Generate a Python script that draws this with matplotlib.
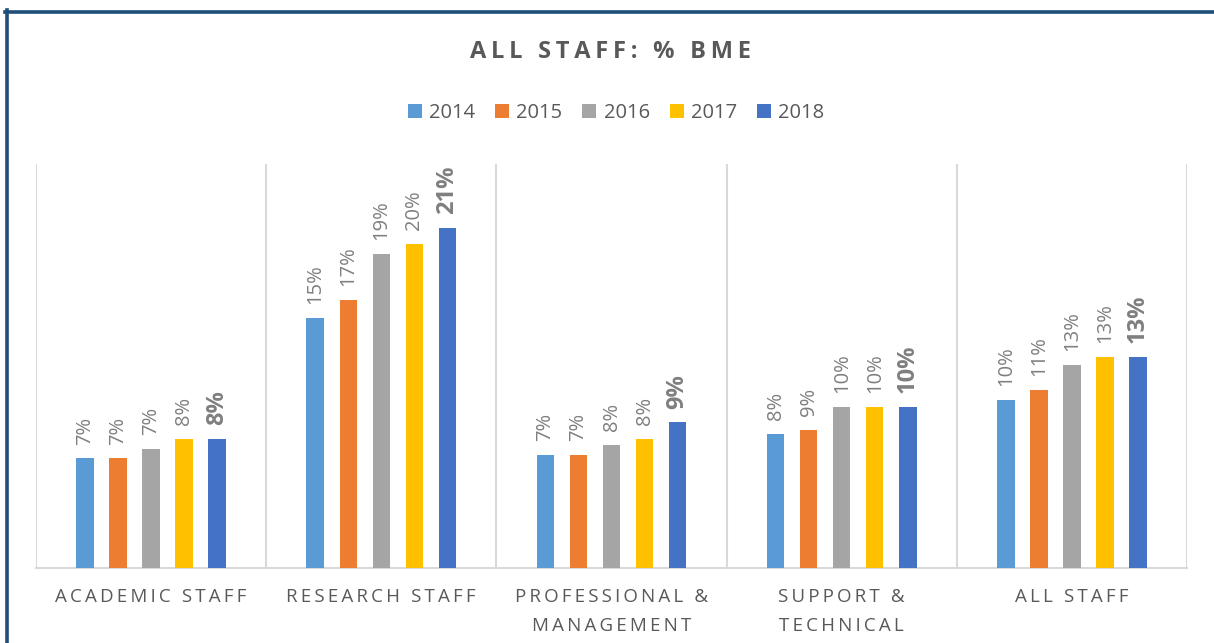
"""Gráfico de barras agrupadas: ALL STAFF: % BME (2014-2018)."""

import matplotlib
matplotlib.use('Agg')
import matplotlib.pyplot as plt
from matplotlib.lines import Line2D
from matplotlib.patches import Patch

plt.rcParams['font.family'] = ['Open Sans', 'DejaVu Sans']

# Dados (percentagem BME por categoria e ano)
categorias = ['ACADEMIC STAFF', 'RESEARCH STAFF', 'PROFESSIONAL &\nMANAGEMENT',
              'SUPPORT &\nTECHNICAL', 'ALL STAFF']
anos = ['2014', '2015', '2016', '2017', '2018']
v2014 = [6.76, 15.45, 6.99, 8.27, 10.39]
v2015 = [6.76, 16.55, 6.99, 8.55, 10.98]
v2016 = [7.36, 19.45, 7.59, 9.97, 12.55]
v2017 = [7.98, 20.03, 7.98, 9.97, 13.03]
v2018 = [7.98, 21.02, 8.99, 9.97, 13.03]
rotulos = [
    ['7%', '15%', '7%', '8%', '10%'],
    ['7%', '17%', '7%', '9%', '11%'],
    ['7%', '19%', '8%', '10%', '13%'],
    ['8%', '20%', '8%', '10%', '13%'],
    ['8%', '21%', '9%', '10%', '13%'],
]
series = [v2014, v2015, v2016, v2017, v2018]
cores = ['#5B9BD5', '#ED7D31', '#A5A5A5', '#FFC000', '#4472C4']


def espacado(texto, sep='\u2009'):
    # simula o espaçamento entre letras do Excel
    linhas = []
    for linha in texto.split('\n'):
        linhas.append(sep.join(linha))
    return '\n'.join(linhas)


fig = plt.figure(figsize=(12.14, 6.43), dpi=100)
ax = fig.add_axes([36 / 1214, 1 - 567.5 / 643, (1187 - 36) / 1214, (567.5 - 164) / 643])

largura = 0.076
passo = 0.1435
x = list(range(len(categorias)))
for i, (vals, cor) in enumerate(zip(series, cores)):
    desloc = (i - 2) * passo
    pos = [xi + desloc for xi in x]
    ax.bar(pos, vals, width=largura, color=cor, zorder=3)
    negrito = (i == len(series) - 1)
    for px, v, r in zip(pos, vals, rotulos[i]):
        ax.annotate(r, (px, v), xytext=(0, 10), textcoords='offset points',
                    rotation=90, ha='center', va='bottom',
                    fontsize=17 if negrito else 14.5,
                    fontweight='bold' if negrito else 'normal',
                    color='#7F7F7F')

ax.set_xlim(-0.5, 4.5)
ax.set_ylim(0, 25)
for b in [-0.5, 0.5, 1.5, 2.5, 3.5, 4.5]:
    ax.axvline(b, color='#D9D9D9', lw=1.5, zorder=1)
for lado in ['top', 'left', 'right']:
    ax.spines[lado].set_visible(False)
ax.spines['bottom'].set_color('#D9D9D9')
ax.spines['bottom'].set_linewidth(1.5)
ax.set_yticks([])
ax.set_xticks(x)
ax.set_xticklabels([espacado(c) for c in categorias], fontsize=13.5,
                   color='#595959', linespacing=1.75)
ax.tick_params(axis='x', length=0, pad=15)

# Título
fig.text(610 / 1214, 1 - 52 / 643, espacado('ALL STAFF: % BME'), ha='center', va='center',
         fontsize=17, fontweight='bold', color='#595959')

# Legenda
handles = [Patch(facecolor=c, edgecolor='none') for c in cores]
fig.legend(handles, anos, loc='center', bbox_to_anchor=(616 / 1214, 1 - 113 / 643),
           ncol=5, frameon=False, fontsize=14.5, handlelength=0.7, handleheight=0.7,
           handletextpad=0.35, columnspacing=1.0, labelcolor='#595959')

# Moldura azul (esquerda e topo)
fig.add_artist(Line2D([6.5 / 1214, 6.5 / 1214], [0, 1 - 10 / 643], color='#1F4E79', lw=2.6))
fig.add_artist(Line2D([5 / 1214, 1], [1 - 11.5 / 643, 1 - 11.5 / 643], color='#1F4E79', lw=2.6))

fig.savefig('out.png', dpi=100)
